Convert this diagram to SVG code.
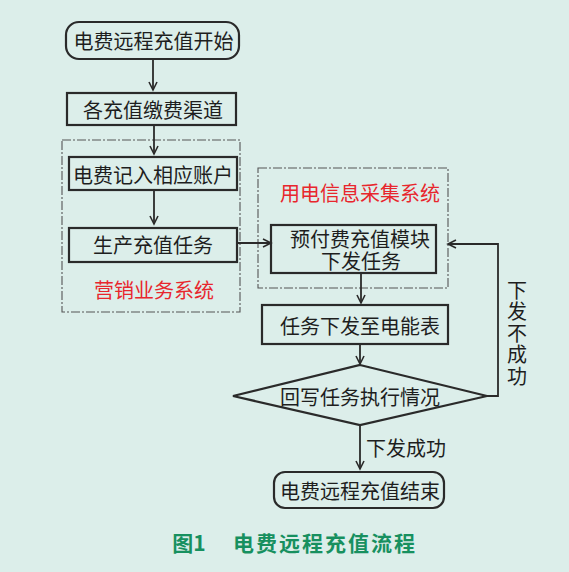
<svg xmlns="http://www.w3.org/2000/svg" width="569" height="572" viewBox="0 0 569 572">
<defs>
<marker id="arr" markerWidth="12" markerHeight="12" refX="10" refY="6" orient="auto" markerUnits="userSpaceOnUse">
<path d="M2,2 L10,6 L2,10" fill="none" stroke="#2a2a2a" stroke-width="1.6"/>
</marker>
</defs>
<style>
text{font-family:"Noto Sans CJK SC","Noto Sans CJK JP",sans-serif;font-size:20px;fill:#1e1e1e;text-anchor:middle;dominant-baseline:central}
.box{fill:none;stroke:#2a2a2a;stroke-width:2.2}
.grp{fill:none;stroke:#555;stroke-width:1.1;stroke-dasharray:9 2 2 2}
.red{fill:#e8262d}
.line{fill:none;stroke:#2a2a2a;stroke-width:1.8}
.cap{fill:#17905f;font-weight:bold;font-size:21px}
.vert{writing-mode:vertical-rl;letter-spacing:1.5px}
</style>
<rect width="569" height="572" fill="#dceeea"/>
<g id="group-marketing">
<rect class="grp" x="62" y="140" width="178" height="172"/>
<text class="red" x="154" y="289">营销业务系统</text>
</g>
<g id="group-collection">
<rect class="grp" x="258" y="168" width="190" height="120"/>
<text class="red" x="360" y="192">用电信息采集系统</text>
</g>
<g id="connectors">
<line class="line" x1="153" y1="59" x2="153" y2="90" marker-end="url(#arr)"/>
<line class="line" x1="154" y1="125" x2="154" y2="154" marker-end="url(#arr)"/>
<line class="line" x1="154" y1="190" x2="154" y2="224" marker-end="url(#arr)"/>
<line class="line" x1="237" y1="243" x2="271" y2="243" stroke-width="2.4" marker-end="url(#arr)"/>
<line class="line" x1="361" y1="273" x2="361" y2="303" marker-end="url(#arr)"/>
<line class="line" x1="360" y1="344" x2="360" y2="364" marker-end="url(#arr)"/>
<polyline class="line" points="487,396 498,396 498,244 448,244" marker-end="url(#arr)"/>
<line class="line" x1="360" y1="425" x2="360" y2="469" marker-end="url(#arr)"/>
<text class="vert" x="517" y="334">下发不成功</text>
<text x="406" y="447">下发成功</text>
</g>
<g id="start">
<rect class="box" x="66" y="22" width="173" height="37" rx="13"/>
<text x="153.5" y="40">电费远程充值开始</text>
</g>
<g id="channels">
<rect class="box" x="67" y="93" width="169" height="32"/>
<text x="153" y="109">各充值缴费渠道</text>
</g>
<g id="account">
<rect class="box" x="69" y="157" width="168" height="33"/>
<text x="153" y="174">电费记入相应账户</text>
</g>
<g id="task">
<rect class="box" x="69" y="228" width="168" height="34"/>
<text x="153" y="244">生产充值任务</text>
</g>
<g id="prepay">
<rect class="box" x="271" y="225" width="165" height="48"/>
<text x="360" y="238">预付费充值模块<tspan x="361" y="260">下发任务</tspan></text>
</g>
<g id="meter">
<rect class="box" x="262" y="305" width="186" height="39"/>
<text x="360" y="325">任务下发至电能表</text>
</g>
<g id="decision">
<polygon class="box" points="360,365 487,396 360,425 233,396"/>
<text x="360" y="396">回写任务执行情况</text>
</g>
<g id="end">
<rect class="box" x="274" y="472" width="170" height="36" rx="11"/>
<text x="360" y="490">电费远程充值结束</text>
</g>
<g id="caption">
<text class="cap" x="189" y="542">图1</text>
<text class="cap" x="325" y="542" letter-spacing="2">电费远程充值流程</text>
</g>
</svg>
